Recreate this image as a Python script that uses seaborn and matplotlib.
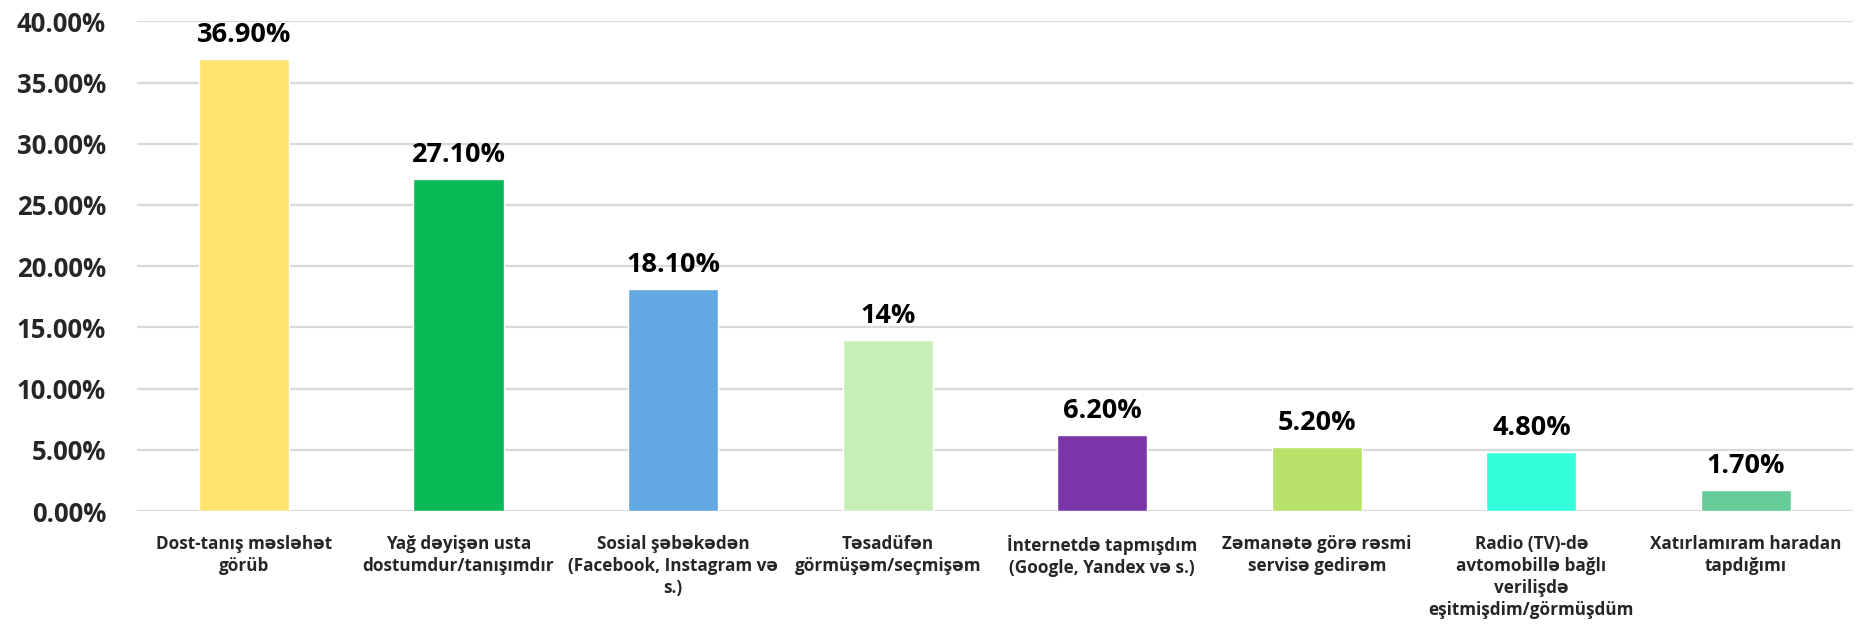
import matplotlib
matplotlib.use("Agg")
import matplotlib.pyplot as plt
import seaborn as sns
import pandas as pd
from matplotlib.ticker import FuncFormatter, MultipleLocator

categories = [
    "Dost-tanış məsləhət\ngörüb",
    "Yağ dəyişən usta\ndostumdur/tanışımdır",
    "Sosial şəbəkədən\n(Facebook, Instagram və\ns.)",
    "Təsadüfən\ngörmüşəm/seçmişəm",
    "İnternetdə tapmışdım\n(Google, Yandex və s.)",
    "Zəmanətə görə rəsmi\nservisə gedirəm",
    "Radio (TV)-də\navtomobillə bağlı\nverilişdə\neşitmişdim/görmüşdüm",
    "Xatırlamıram haradan\ntapdığımı",
]
values = [0.369, 0.271, 0.181, 0.14, 0.062, 0.052, 0.048, 0.017]
value_labels = ["36.90%", "27.10%", "18.10%", "14%", "6.20%", "5.20%", "4.80%", "1.70%"]
colors = ["#FFE36F", "#07BA55", "#62A9E3", "#C6EFB5", "#7A36A8", "#B8E26A", "#33FFDD", "#66CC99"]

sns.set_theme(style="white")
plt.rcParams['font.family'] = ['Open Sans', 'DejaVu Sans']

df = pd.DataFrame({"cat": categories, "val": values})

fig = plt.figure(figsize=(18.72, 6.27), dpi=100)
ax = fig.add_axes([0.073, 0.185, 0.917, 0.781])
sns.barplot(data=df, x="cat", y="val", hue="cat", palette=colors, legend=False,
            width=0.42, ax=ax, zorder=3, saturation=1)

ax.set_ylim(0, 0.40)
ax.yaxis.set_major_locator(MultipleLocator(0.05))
ax.yaxis.set_major_formatter(FuncFormatter(lambda v, p: f"{v*100:.2f}%"))
ax.grid(axis='y', color="#D9D9D9", linewidth=1.6, zorder=0)
ax.grid(axis='x', visible=False)
for s in ax.spines.values():
    s.set_visible(False)
ax.set_xlabel("")
ax.set_ylabel("")
ax.tick_params(axis='y', length=0, pad=22, labelsize=18.5)
ax.tick_params(axis='x', length=0, pad=17, labelsize=12.3)
for t in ax.get_yticklabels():
    t.set_fontweight('bold')
for t in ax.get_xticklabels():
    t.set_fontweight('bold')
    t.set_linespacing(1.3)

for p, lab in zip(ax.patches, value_labels):
    ax.annotate(lab, (p.get_x() + p.get_width() / 2, p.get_height()),
                xytext=(0, 8), textcoords="offset points", ha="center", va="bottom",
                fontsize=19.5, fontweight="bold", color="black", annotation_clip=False)

fig.savefig("out.png", dpi=100)
